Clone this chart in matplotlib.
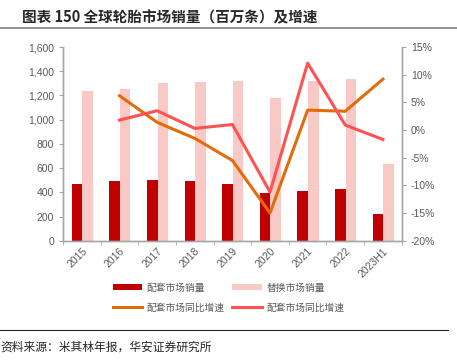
import numpy as np
import matplotlib
matplotlib.use('Agg')
import matplotlib.pyplot as plt
from matplotlib.ticker import FuncFormatter

plt.rcParams['font.family'] = ['Liberation Sans', 'Noto Sans CJK SC', 'DejaVu Sans']

# data
years = ['2015', '2016', '2017', '2018', '2019', '2020', '2021', '2022', '2023H1']
oe_sales = [466, 493, 501, 493, 466, 397, 411, 425, 221]          # 配套市场销量
rep_sales = [1235, 1256, 1303, 1309, 1320, 1177, 1320, 1334, 634]  # 替换市场销量
oe_growth = [None, 6.2, 1.4, -1.5, -5.5, -15.0, 3.6, 3.4, 9.2]     # %
rep_growth = [None, 1.8, 3.5, 0.3, 1.0, -11.2, 12.1, 0.9, -1.7]    # %

gray = '#595959'
axis_gray = '#A6A6A6'

fig = plt.figure(figsize=(4.57, 3.62), dpi=100)
ax = fig.add_axes([0.138, 0.335, 0.741, 0.535])
ax2 = ax.twinx()

x = np.arange(len(years))
w = 0.28
b1 = ax.bar(x - 0.13, oe_sales, w, color='#C00000', zorder=2)
b2 = ax.bar(x + 0.15, rep_sales, w, color='#F9C9C6', zorder=2)

gx = x[1:]
l1, = ax2.plot(gx, oe_growth[1:], color='#E36C09', lw=2.2, zorder=3)
l2, = ax2.plot(gx, rep_growth[1:], color='#FF5252', lw=2.2, zorder=3)

ax.set_xlim(-0.5, len(years) - 0.5)
ax.set_ylim(0, 1600)
ax.set_yticks(range(0, 1601, 200))
ax.yaxis.set_major_formatter(FuncFormatter(lambda v, p: f'{int(v):,}'))
ax2.set_ylim(-20, 15)
ax2.set_yticks(range(-20, 16, 5))
ax2.yaxis.set_major_formatter(FuncFormatter(lambda v, p: f'{int(v)}%'))

ax.set_xticks(x)
ax.set_xticklabels(years, rotation=45, ha='right', rotation_mode='anchor')
ax.set_xticks(np.arange(-0.5, len(years), 1), minor=True)
ax.tick_params(axis='x', which='major', length=0, labelsize=7.5, colors=gray, pad=4)
ax.tick_params(axis='x', which='minor', length=3, color=axis_gray)
ax.tick_params(axis='y', labelsize=7.5, colors=gray, length=3, color=axis_gray)
ax2.tick_params(axis='y', labelsize=7.5, colors=gray, length=3, color=axis_gray)

for a in (ax, ax2):
    a.spines['top'].set_visible(False)
    for s in ('left', 'right', 'bottom'):
        a.spines[s].set_color(axis_gray)
        a.spines[s].set_linewidth(1.0)

# legend filled column by column: row 1 = bars, row 2 = lines
fig.legend([b1, l1, b2, l2],
           ['配套市场销量', '配套市场同比增速', '替换市场销量', '配套市场同比增速'],
           ncol=2, loc='center', bbox_to_anchor=(0.5, 0.178), frameon=False,
           prop={'family': 'Noto Sans CJK SC', 'size': 7}, labelcolor=gray,
           handlelength=3.0, handleheight=0.5, columnspacing=0.8, labelspacing=1.0,
           handletextpad=0.5)

# title and source
fig.text(0.048, 0.953, '图表 150 全球轮胎市场销量（百万条）及增速', fontsize=10.5,
         fontweight='bold', family=['Noto Sans CJK SC'], va='center', color='#262626')
fig.add_artist(plt.Line2D([0.0, 1.0], [0.922, 0.922], color='#7F7F7F', lw=1.2))
fig.add_artist(plt.Line2D([0.0, 0.98], [0.088, 0.088], color='#262626', lw=0.8))
fig.text(0.0, 0.04, '资料来源：米其林年报，华安证券研究所', fontsize=8.5,
         family=['Noto Sans CJK SC'], va='center', color='#262626')

fig.savefig('out.png', dpi=100)
